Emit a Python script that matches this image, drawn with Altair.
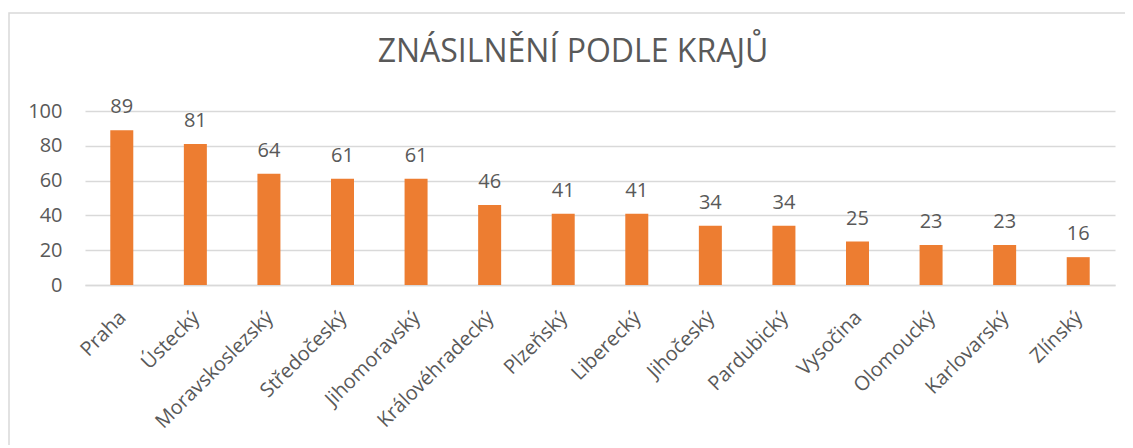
import altair as alt
import pandas as pd

regions = ["Praha", "Ústecký", "Moravskoslezský", "Středočeský", "Jihomoravský",
           "Královéhradecký", "Plzeňský", "Liberecký", "Jihočeský", "Pardubický",
           "Vysočina", "Olomoucký", "Karlovarský", "Zlínský"]
values = [89, 81, 64, 61, 61, 46, 41, 41, 34, 34, 25, 23, 23, 16]
y_ticks = [0, 20, 40, 60, 80, 100]
title_text = "ZNÁSILNĚNÍ PODLE KRAJŮ"

df = pd.DataFrame({"kraj": regions, "pocet": values})

FONT = "Open Sans"
GREY_TEXT = "#595959"
GRID = "#d9d9d9"

x_enc = alt.X("kraj:N", sort=regions, title=None,
              scale=alt.Scale(paddingInner=0, paddingOuter=0),
              axis=alt.Axis(labelAngle=-45, labelFontSize=20, labelFont=FONT,
                            labelColor=GREY_TEXT, ticks=False, domainColor=GRID,
                            domainWidth=1.5, labelPadding=22, labelOffset=-6))
y_enc = alt.Y("pocet:Q", title=None,
              scale=alt.Scale(domain=[0, 100]),
              axis=alt.Axis(values=y_ticks, labelFontSize=20, labelFont=FONT,
                            labelColor=GREY_TEXT, ticks=False, domain=False,
                            gridColor=GRID, gridWidth=1.5, labelPadding=23))

base = alt.Chart(df).encode(x=x_enc, y=y_enc)
bars = base.mark_bar(color="#ED7D31", size=23)
labels = base.mark_text(baseline="alphabetic", dy=-17, fontSize=20, font=FONT,
                        color=GREY_TEXT).encode(text="pocet:Q")

border = alt.Chart(pd.DataFrame({"a": [0]})).mark_rect(
    filled=False, stroke=GRID, strokeWidth=1.5
).encode(x=alt.value(-76), x2=alt.value(1300), y=alt.value(-98), y2=alt.value(600))

chart = alt.layer(border, bars, labels).properties(
    width=1030, height=174,
    autosize=alt.AutoSizeParams(type="none"),
    padding={"left": 77, "top": 103, "right": 10, "bottom": 160},
    title=alt.TitleParams(title_text, font=FONT, fontSize=32, fontWeight="normal",
                          color=GREY_TEXT, anchor="middle", frame="group",
                          baseline="alphabetic", offset=-82, dx=-27),
).configure_view(strokeWidth=0)

chart.save("out.html", embed_options={"renderer": "svg", "actions": False})
